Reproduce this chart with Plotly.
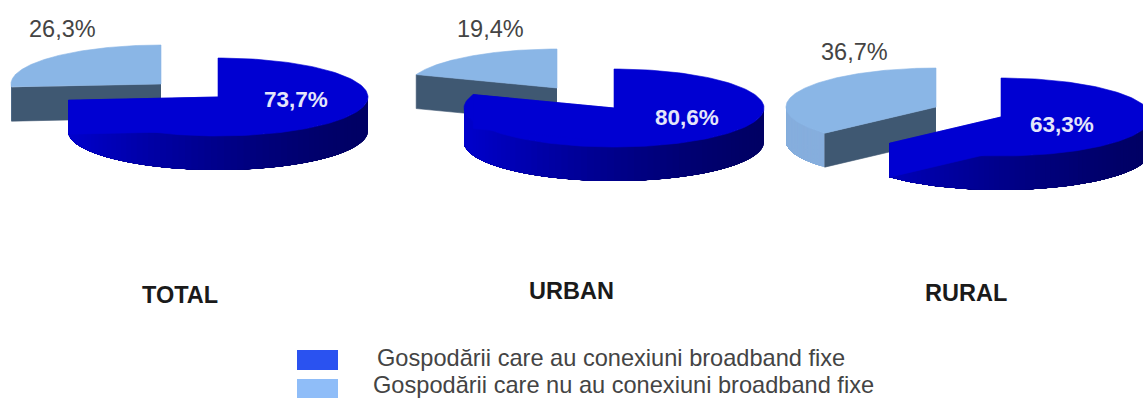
import numpy as np
import plotly.graph_objects as go

# Share of households, in percent
areas = ["TOTAL", "URBAN", "RURAL"]
with_broadband = [73.7, 80.6, 63.3]
without_broadband = [26.3, 19.4, 36.7]
value_labels_with = ["73,7%", "80,6%", "63,3%"]
value_labels_without = ["26,3%", "19,4%", "36,7%"]
legend_labels = [
    "Gospodării care au conexiuni broadband fixe",
    "Gospodării care nu au conexiuni broadband fixe",
]

# Placement of each exploded pie on the page (pixel-based axes)
WIDTH, HEIGHT = 1143, 399
dark_apex = [(218, 97), (614, 108), (1001, 117)]
light_apex = [(161, 84), (557, 88), (936, 107)]
RX, RY, DEPTH = 150, 39, 34

TOP_BLUE = "#0000d2"
TOP_LIGHT = "#8ab6e6"
CUT_LIGHT = "#3f5872"
WALL_LIGHT = "#86aedd"


def rim(cx, cy, a0, a1, n=160):
    """Ellipse rim between two clockwise-from-north angles in degrees."""
    t = np.radians(np.linspace(a0, a1, n))
    return cx + RX * np.sin(t), cy - RY * np.cos(t)


def poly(fig, x, y, color, width=0.6):
    fig.add_trace(go.Scatter(
        x=list(x), y=list(y), mode="lines", fill="toself", fillcolor=color,
        line=dict(color=color, width=width), hoverinfo="skip", showlegend=False,
    ))


def wall_color(angle):
    """Side wall of the blue slice: navy on the right, brighter towards the left."""
    s = (1 - np.sin(np.radians(angle))) / 2  # 0 at the right, 1 at the left
    return f"rgb(0,0,{int(round(100 + 105 * s ** 1.4))})"


def draw_slice(fig, cx, cy, a0, a1, top, cut, wall):
    # Outer wall only where the rim faces the viewer (90..270 degrees).
    # Each band runs on to the far end so the next one paints over it without seams.
    lo, hi = max(a0, 90), min(a1, 270)
    if hi > lo:
        for e0 in np.linspace(lo, hi, 70, endpoint=False):
            xr, yr = rim(cx, cy, e0, hi, 60)
            color = wall if isinstance(wall, str) else wall(e0)
            poly(fig, np.r_[xr, xr[::-1]], np.r_[yr, yr[::-1] + DEPTH], color, 0)
    # Radial cut at the start of the slice, facing the viewer
    if cut is not None:
        xe, ye = rim(cx, cy, a0, a0, 1)
        poly(fig, [cx, xe[0], xe[0], cx], [cy, ye[0], ye[0] + DEPTH, cy + DEPTH], cut)
    # Upper surface
    xr, yr = rim(cx, cy, a0, a1)
    poly(fig, np.r_[cx, xr, cx], np.r_[cy, yr, cy], top)


fig = go.Figure()

for i, area in enumerate(areas):
    # The light slice sits behind and closes the circle at north
    sweep_dark = with_broadband[i] * 3.6
    sweep_light = without_broadband[i] * 3.6
    lx, ly = light_apex[i]
    draw_slice(fig, lx, ly, 360 - sweep_light, 360, TOP_LIGHT, CUT_LIGHT, WALL_LIGHT)
    dx, dy = dark_apex[i]
    draw_slice(fig, dx, dy, 0, sweep_dark, TOP_BLUE, None, wall_color)
    # The end cut of the blue slice shares the colour of its top surface
    xe, ye = rim(dx, dy, sweep_dark, sweep_dark, 1)
    poly(fig, [dx, xe[0], xe[0], dx], [dy, ye[0], ye[0] + DEPTH, dy + DEPTH], TOP_BLUE)

# Legend swatches
for (y0, y1), color in zip([(350, 370), (379, 398)], ["#2a52f0", "#8fbdf8"]):
    poly(fig, [297, 338, 338, 297], [y0, y0, y1, y1], color, 0)

FONT = "Liberation Sans, Arial, sans-serif"


def label(x, y, text, size, color, bold=False, anchor="center"):
    fig.add_annotation(
        x=x, y=y, text=f"<b>{text}</b>" if bold else text, showarrow=False,
        xanchor=anchor, yanchor="middle",
        font=dict(family=FONT, size=size, color=color),
    )


for text, (x, y) in zip(value_labels_without, [(62, 29), (490, 29), (854, 52)]):
    label(x, y, text, 23.5, "#444444")
for text, (x, y) in zip(value_labels_with, [(296, 99), (687, 117), (1062, 124)]):
    label(x, y, text, 22.5, "#e4e6fa", bold=True)
for text, (x, y) in zip(areas, [(180, 295), (571, 291), (966, 293)]):
    label(x, y, text, 23.5, "#1a1a1a", bold=True)

label(375, 358, legend_labels[0], 23.6, "#444444", anchor="left")
label(371, 385, legend_labels[1], 23.6, "#444444", anchor="left")

fig.update_xaxes(range=[0, WIDTH], visible=False, fixedrange=True)
fig.update_yaxes(range=[HEIGHT, 0], visible=False, fixedrange=True)
fig.update_layout(
    width=WIDTH, height=HEIGHT, margin=dict(l=0, r=0, t=0, b=0),
    paper_bgcolor="white", plot_bgcolor="white", showlegend=False,
)
fig.write_html("out.html", config=dict(displayModeBar=False))
